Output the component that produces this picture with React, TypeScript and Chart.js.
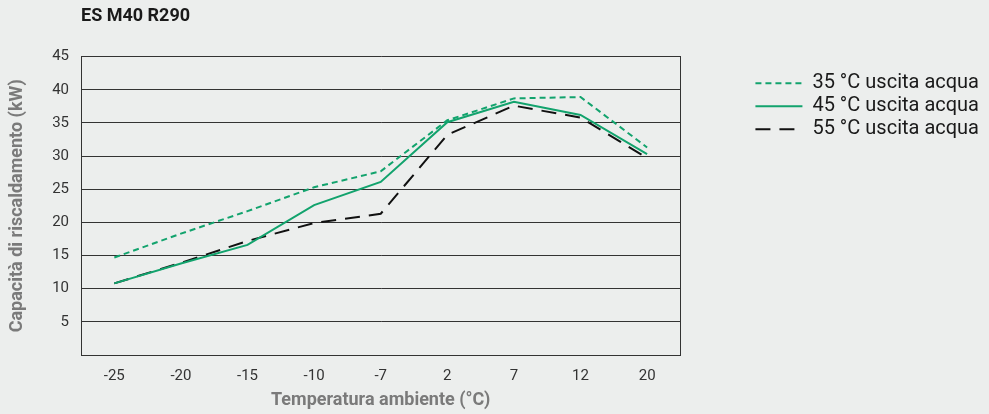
import React, { useEffect, useRef } from 'react';
import { Chart, registerables } from 'chart.js';

Chart.register(...registerables);

const categories = ['-25', '-20', '-15', '-10', '-7', '2', '7', '12', '20'];
const series35 = [14.7, 18.3, 21.7, 25.3, 27.7, 35.4, 38.7, 38.9, 31.3];
const series45 = [10.8, 13.8, 16.6, 22.6, 26.1, 35.1, 38.2, 36.2, 30.3];
const series55 = [10.8, 13.9, 17.2, 19.9, 21.3, 33.2, 37.6, 35.8, 29.7];
const seriesLabels = ['35 °C uscita acqua', '45 °C uscita acqua', '55 °C uscita acqua'];
const chartTitle = 'ES M40 R290';
const xTitle = 'Temperatura ambiente (°C)';
const yTitle = 'Capacità di riscaldamento (kW)';

const GREEN = '#12a36d';
const BLACK = '#111111';
const BG = '#eceeed';
const FONT = 'Roboto';

const alignTitlePlugin = {
  id: 'alignTitle',
  afterLayout(chart: any) {
    if (chart.titleBlock) {
      chart.titleBlock.left = chart.chartArea.left;
    }
  },
};

export default function App() {
  const ref = useRef<HTMLCanvasElement | null>(null);
  useEffect(() => {
    if (!ref.current) return;
    const chart = new Chart(ref.current, {
      type: 'line',
      data: {
        labels: categories,
        datasets: [
          {
            label: seriesLabels[0],
            data: series35,
            borderColor: GREEN,
            backgroundColor: GREEN,
            borderWidth: 2,
            borderDash: [6, 4],
            pointRadius: 0,
            tension: 0,
          },
          {
            label: seriesLabels[1],
            data: series45,
            borderColor: GREEN,
            backgroundColor: GREEN,
            borderWidth: 2,
            pointRadius: 0,
            tension: 0,
          },
          {
            label: seriesLabels[2],
            data: series55,
            borderColor: BLACK,
            backgroundColor: BLACK,
            borderWidth: 2,
            borderDash: [15, 9],
            pointRadius: 0,
            tension: 0,
          },
        ],
      },
      options: {
        animation: false,
        responsive: false,
        maintainAspectRatio: false,
        layout: { padding: { left: 0, right: 0, top: 0, bottom: 1 } },
        plugins: {
          title: {
            display: true,
            text: chartTitle,
            align: 'start',
            color: '#1a1a1a',
            font: { family: FONT, size: 18, weight: 'bold' },
            padding: { top: 6, bottom: 29 },
          },
          legend: {
            display: true,
            position: 'right',
            align: 'start',
            maxWidth: 240,
            title: { display: true, text: '', font: { size: 1 }, padding: { top: 69, bottom: 0 } },
            labels: {
              usePointStyle: true,
              pointStyle: 'line',
              pointStyleWidth: 47,
              boxHeight: 20,
              padding: 3,
              color: '#1a1a1a',
              font: { family: FONT, size: 20 },
              generateLabels: (c: any) => {
                const items = Chart.defaults.plugins.legend.labels.generateLabels(c);
                items.forEach((it: any) => {
                  const ds: any = c.data.datasets[it.datasetIndex];
                  it.lineDash = ds.borderDash || [];
                  it.lineWidth = ds.borderWidth;
                  it.strokeStyle = ds.borderColor;
                  it.fillStyle = ds.borderColor;
                });
                return items;
              },
            },
          },
          tooltip: { enabled: false },
        },
        scales: {
          x: {
            type: 'category',
            offset: true,
            grid: { display: false, drawTicks: false },
            border: { display: true, color: '#333', width: 1 },
            ticks: { color: '#333', font: { family: FONT, size: 15 }, padding: 12 },
            title: {
              display: true,
              text: xTitle,
              color: '#7a7a7a',
              font: { family: FONT, size: 18, weight: 'bold' },
              padding: { top: 4, bottom: 2 },
            },
            afterFit: (s: any) => {
              s.height = 58;
            },
          },
          y: {
            type: 'linear',
            min: 0,
            max: 45,
            grid: { display: true, color: '#333', lineWidth: 1, drawTicks: false },
            border: { display: true, color: '#333', width: 1 },
            ticks: {
              stepSize: 5,
              color: '#333',
              font: { family: FONT, size: 15 },
              padding: 12,
              callback: (v: any) => (Number(v) === 0 ? '' : String(v)),
            },
            title: {
              display: true,
              text: yTitle,
              color: '#7a7a7a',
              font: { family: FONT, size: 18, weight: 'bold' },
              padding: { top: 7, bottom: 4 },
            },
            afterFit: (s: any) => {
              s.width = 81;
            },
          },
          yRight: {
            type: 'linear',
            position: 'right',
            display: true,
            grid: { display: false, drawTicks: false },
            border: { display: true, color: '#333', width: 1 },
            ticks: { display: false },
            afterFit: (s: any) => {
              s.width = 72;
            },
          },
        },
      },
      plugins: [alignTitlePlugin],
    });
    return () => chart.destroy();
  }, []);
  return (
    <div style={{ position: 'fixed', left: 0, top: 0, width: 989, height: 414, background: BG }}>
      <canvas ref={ref} width={989} height={414} style={{ display: 'block', width: 989, height: 414 }} />
    </div>
  );
}
